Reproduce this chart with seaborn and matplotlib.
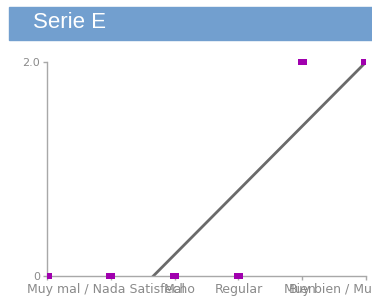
import numpy as np
import pandas as pd
import seaborn as sns
import matplotlib
matplotlib.use("Agg")
import matplotlib.pyplot as plt
from matplotlib.patches import Rectangle
from matplotlib.transforms import Bbox, TransformedBbox

# data
categories = ["", "Muy mal / Nada Satisfecho", "Mal", "Regular", "Bien",
              "Muy bien / Muy Satisfecho"]
values = [0, 0, 0, 0, 2, 2]
yticks = [0, 2.0]
yticklabels = ["0", "2.0"]

sns.set_style("white")
plt.rcParams['font.family'] = ['DejaVu Sans']

df = pd.DataFrame({"pos": np.arange(len(categories)), "value": values})

fig = plt.figure(figsize=(3.72, 3.02), dpi=100)
ax = fig.add_axes([47/372, 26/302, 319/372, 214/302])
ax.set_xlim(0, len(categories) - 1)
ax.set_ylim(0, 2)

# trend line over the rated categories (first slot left out)
sns.regplot(data=df.iloc[1:], x="pos", y="value", ci=None, scatter=False,
            truncate=False, line_kws={"color": "#6a6a6a", "lw": 2}, ax=ax)

rect = [(-1, -0.55), (1, -0.55), (1, 0.55), (-1, 0.55)]
sns.scatterplot(data=df, x="pos", y="value", marker=rect, s=45,
                color="#a000ae", edgecolor="none", ax=ax, zorder=5)
# clip only at the sides, as in the reference
clip = TransformedBbox(Bbox([[0, -0.05], [1, 1.05]]), ax.transAxes)
for coll in ax.collections:
    coll.set_clip_box(clip)

ax.set_xlim(0, len(categories) - 1)
ax.set_ylim(0, 2)
ax.set_xticks(df["pos"])
ax.set_xticklabels(categories)
ax.set_yticks(yticks)
ax.set_yticklabels(yticklabels)
ax.set_xlabel("")
ax.set_ylabel("")
for s in ["top", "right"]:
    ax.spines[s].set_visible(False)
for s in ["left", "bottom"]:
    ax.spines[s].set_color("#a8a8a8")
    ax.spines[s].set_linewidth(1)
ax.tick_params(axis="both", colors="#a8a8a8", labelcolor="#8a8a8a",
               labelsize=9, length=3, width=1, pad=2, left=True, bottom=True)
ax.tick_params(axis="y", labelsize=8)

# title band
fig.patches.append(Rectangle((9/372, 262/302), 1 - 9/372, 33/302,
                             transform=fig.transFigure, color="#729fcf", zorder=0))
fig.text(33/372, 279/302, "Serie E", color="white", fontsize=16,
         family="Liberation Sans", va="center", ha="left")

fig.savefig("out.png", dpi=100)
